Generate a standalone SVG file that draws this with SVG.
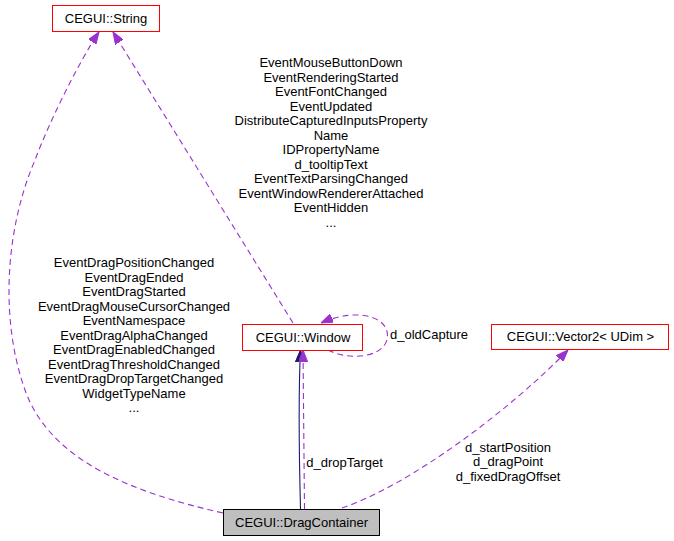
<svg xmlns="http://www.w3.org/2000/svg" width="674" height="541" viewBox="0 0 674 541">
<style>
  text { font-family: "Liberation Sans", Arial, sans-serif; font-size: 13px; fill: #000; text-anchor: middle; }
  .node { fill: #ffffff; stroke: #ff0000; stroke-width: 1; }
  .main { fill: #bfbfbf; stroke: #000000; stroke-width: 1; }
  .dash { fill: none; stroke: #9a32cd; stroke-width: 1.1; stroke-dasharray: 6,4; }
  .inh { fill: none; stroke: #191970; stroke-width: 1.1; }
</style>
<defs>
  <marker id="ap" markerUnits="userSpaceOnUse" viewBox="0 0 12 9" markerWidth="12" markerHeight="9" refX="12" refY="4.5" orient="auto">
    <path d="M0,0 L12,4.5 L0,9 z" fill="#9a32cd" stroke="#9a32cd" stroke-width="1"/>
  </marker>
  <marker id="an" markerUnits="userSpaceOnUse" viewBox="0 0 12 9" markerWidth="12" markerHeight="9" refX="12" refY="4.5" orient="auto">
    <path d="M0,0 L12,4.5 L0,9 z" fill="#191970" stroke="#191970" stroke-width="1"/>
  </marker>
</defs>
<g id="connectors">
  <path class="dash" d="M223,513 C130,492 50,460 25,390 C0,320 5,230 35,160 C50,120 80,60 99,32" marker-end="url(#ap)"/>
  <path class="dash" d="M293,323 L113,32" marker-end="url(#ap)"/>
  <path class="inh" d="M300.5,509 C299,450 298,400 300.5,350" marker-end="url(#an)"/>
  <path class="dash" d="M304.5,509 L303,350" marker-end="url(#ap)"/>
  <path class="dash" d="M320,344 C335,360 380,362 387,340 C392,318 360,306 321,323" marker-end="url(#ap)"/>
  <path class="dash" d="M342,508 C410,485 510,410 568,350" marker-end="url(#ap)"/>
  <g id="label-string">
    <text x="134" y="267">EventDragPositionChanged</text>
    <text x="134" y="281.5">EventDragEnded</text>
    <text x="134" y="296">EventDragStarted</text>
    <text x="134" y="310.5">EventDragMouseCursorChanged</text>
    <text x="134" y="325">EventNamespace</text>
    <text x="134" y="339.5">EventDragAlphaChanged</text>
    <text x="134" y="354">EventDragEnabledChanged</text>
    <text x="134" y="368.5">EventDragThresholdChanged</text>
    <text x="134" y="383">EventDragDropTargetChanged</text>
    <text x="134" y="397.5">WidgetTypeName</text>
    <text x="134" y="412">...</text>
  </g>
  <g id="label-window-string">
    <text x="331" y="67">EventMouseButtonDown</text>
    <text x="331" y="81.5">EventRenderingStarted</text>
    <text x="331" y="96">EventFontChanged</text>
    <text x="331" y="110.5">EventUpdated</text>
    <text x="331" y="125">DistributeCapturedInputsProperty</text>
    <text x="331" y="139.5">Name</text>
    <text x="331" y="154">IDPropertyName</text>
    <text x="331" y="168.5">d_tooltipText</text>
    <text x="331" y="183">EventTextParsingChanged</text>
    <text x="331" y="197.5">EventWindowRendererAttached</text>
    <text x="331" y="212">EventHidden</text>
    <text x="331" y="226.5">...</text>
  </g>
  <text x="429" y="338.5">d_oldCapture</text>
  <text x="344.5" y="466.5">d_dropTarget</text>
  <text x="508" y="451.5">d_startPosition</text>
  <text x="508" y="466">d_dragPoint</text>
  <text x="508" y="480.5">d_fixedDragOffset</text>
</g>
<g id="node-string">
  <rect class="node" x="52.5" y="5.5" width="107" height="26"/>
  <text x="106" y="23">CEGUI::String</text>
</g>
<g id="node-window">
  <rect class="node" x="242.5" y="324.5" width="120" height="26"/>
  <text x="303" y="341.5">CEGUI::Window</text>
</g>
<g id="node-vector2">
  <rect class="node" x="491.5" y="324.5" width="177" height="25"/>
  <text x="580.5" y="341">CEGUI::Vector2&lt; UDim &gt;</text>
</g>
<g id="node-dragcontainer">
  <rect class="main" x="223.5" y="509.5" width="156" height="26"/>
  <text x="301.5" y="527">CEGUI::DragContainer</text>
</g>
</svg>
